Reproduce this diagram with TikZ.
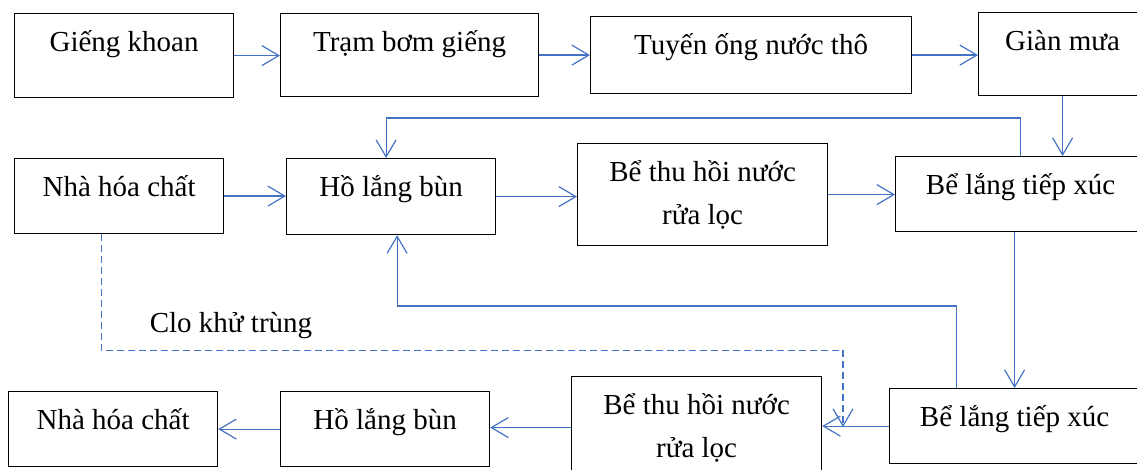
\documentclass[tikz,border=0pt]{standalone}
\usepackage{fontspec}
\setmainfont{Liberation Serif}
\usetikzlibrary{arrows.meta}
\definecolor{flow}{HTML}{4472C4}
\tikzset{
  blk/.style={draw, line width=1.2pt, inner sep=0pt, anchor=north west, align=center, text height=38pt},
  flw/.style={draw=flow, line width=1.2pt, -{Straight Barb[length=17pt,width=20pt]}},
}
\begin{document}
\begin{tikzpicture}[x=1pt, y=-1pt, font=\fontsize{29}{43}\selectfont]
\useasboundingbox (0,0) rectangle (1137,470);
\node[blk, minimum width=219pt, text depth=46pt] (gieng) at (14,13) {Giếng khoan};
\node[blk, minimum width=258pt, text depth=45pt] (tram) at (280,13) {Trạm bơm giếng};
\node[blk, minimum width=321pt, text depth=39pt] (tuyen) at (590,16) {Tuyến ống nước thô};
\node[blk, minimum width=168pt, text depth=45pt] (gian) at (978,12) {Giàn mưa};
\node[blk, minimum width=209pt, text depth=37pt] (nhahc1) at (14,158) {Nhà hóa chất};
\node[blk, minimum width=209pt, text depth=38pt] (holang1) at (286,158) {Hồ lắng bùn};
\node[blk, minimum width=250pt, text height=81pt, text depth=21pt] (bethu1) at (577,143) {Bể thu hồi nước\\rửa lọc};
\node[blk, minimum width=250pt, text depth=37pt] (belang1) at (895,156) {Bể lắng tiếp xúc};
\node[blk, minimum width=209pt, text depth=37pt] (nhahc2) at (8,391) {Nhà hóa chất};
\node[blk, minimum width=209pt, text depth=37pt] (holang2) at (280,391) {Hồ lắng bùn};
\node[blk, minimum width=250pt, text height=81pt, text depth=21pt] (bethu2) at (571,376) {Bể thu hồi nước\\rửa lọc};
\node[blk, minimum width=250pt, text depth=37pt] (belang2) at (889,388) {Bể lắng tiếp xúc};
\coordinate (clo) at (843,427);
\node[anchor=base] (clolbl) at (231,332) {Clo khử trùng};
\draw[flw] (gieng.east) -- (gieng.east -| tram.west);
\draw[flw] (tram.east) -- (tram.east -| tuyen.west);
\draw[flw] (tuyen.east) -- (tuyen.east -| gian.west);
\draw[flw] (gian.south) -- (gian.south |- belang1.north);
\draw[flw] (nhahc1.east) -- (nhahc1.east -| holang1.west);
\draw[flw] (holang1.east) -- (holang1.east -| bethu1.west);
\draw[flw] (bethu1.east) -- (bethu1.east -| belang1.west);
\draw[flw] (belang1.north) -- ++(0,-38) -| ([xshift=-5pt]holang1.north);
\draw[flw] (belang2.north |- belang1.south) -- (belang2.north);
\draw[flw] ([xshift=-58pt]belang2.north) -- ++(0,-82) -| ([xshift=6pt]holang1.south);
\draw[flw] (belang2.west) -- (belang2.west -| bethu2.east);
\draw[flw] (bethu2.west) -- (bethu2.west -| holang2.east);
\draw[flw] (holang2.west) -- (holang2.west -| nhahc2.east);
\draw[flw, dash pattern=on 7pt off 4pt] ([xshift=-18pt]nhahc1.south) -- ++(0,116) -| (clo);
\end{tikzpicture}
\end{document}
